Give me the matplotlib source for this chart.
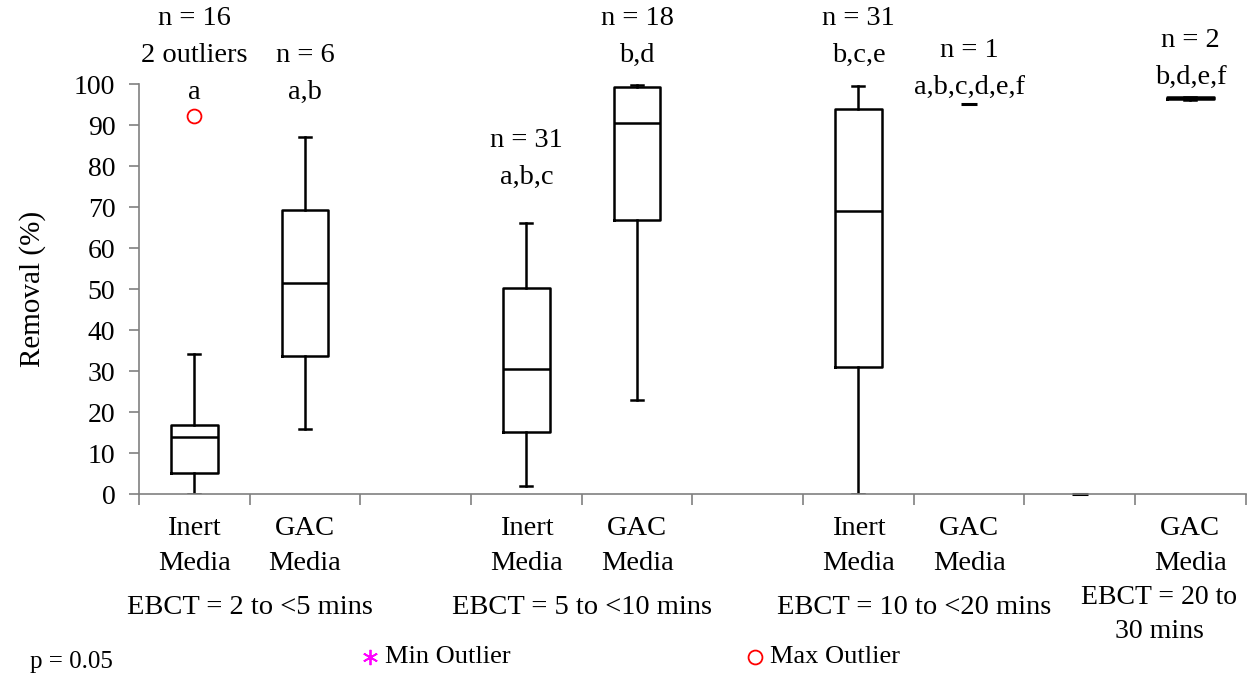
import matplotlib
matplotlib.use("Agg")
import matplotlib.pyplot as plt
from matplotlib.lines import Line2D
import matplotlib.transforms as mtransforms

plt.rcParams['font.family'] = ['Liberation Serif', 'DejaVu Serif']

# category slots along the x axis (blank slots separate the EBCT groups)
categories = ['Inert\nMedia', 'GAC\nMedia', '', 'Inert\nMedia', 'GAC\nMedia', '',
              'Inert\nMedia', 'GAC\nMedia', '', 'GAC\nMedia']

# box statistics (Removal %), one entry per drawn box
box_pos = [0, 1, 3, 4, 6, 9]
whislo = [0.0, 16.0, 2.0, 23.0, 0.0, 96.2]
q1 = [5.1, 33.7, 15.2, 66.8, 31.0, 96.4]
med = [13.9, 51.5, 30.5, 90.5, 69.0, 96.6]
q3 = [16.8, 69.3, 50.2, 99.3, 94.1, 96.8]
whishi = [34.1, 87.1, 66.1, 99.8, 99.6, 97.0]

# single-value categories
single_pos = [7, 8]
single_val = [95.3, 0.0]

# max outliers
outlier_pos = [0]
outlier_val = [92.2]

# annotation text above each box (top line first)
note_pos = [0, 1, 3, 4, 6, 7, 9]
note_lines = [['n = 16', '2 outliers', 'a'],
              ['n = 6', 'a,b'],
              ['n = 31', 'a,b,c'],
              ['n = 18', 'b,d'],
              ['n = 31', 'b,c,e'],
              ['n = 1', 'a,b,c,d,e,f'],
              ['n = 2', 'b,d,e,f']]
note_bottom = [98.0, 98.0, 77.3, 107.1, 107.1, 99.3, 101.7]

groups = ['EBCT = 2 to <5 mins', 'EBCT = 5 to <10 mins',
          'EBCT = 10 to <20 mins', 'EBCT = 20 to\n30 mins']
group_x = [0.5, 3.5, 6.5, 8.72]

fig = plt.figure(figsize=(12.52, 6.75), dpi=100)
ax = fig.add_axes([0.111, 0.268, 0.884, 0.607])

stats = []
for i in range(len(box_pos)):
    stats.append({'whislo': whislo[i], 'q1': q1[i], 'med': med[i],
                  'q3': q3[i], 'whishi': whishi[i], 'fliers': []})

lw = 1.8
ax.bxp(stats, positions=box_pos, widths=0.42, capwidths=0.11,
       showfliers=False, patch_artist=False,
       boxprops=dict(color='black', linewidth=lw),
       medianprops=dict(color='black', linewidth=lw),
       whiskerprops=dict(color='black', linewidth=lw),
       capprops=dict(color='black', linewidth=lw))

ax.plot(single_pos, single_val, linestyle='none', marker='_',
        markersize=12, markeredgewidth=2.2, color='black', clip_on=False)
ax.plot(outlier_pos, outlier_val, linestyle='none', marker='o',
        markersize=10, markerfacecolor='none', markeredgecolor='red',
        markeredgewidth=1.3, clip_on=False)

step = 9.0
for p, lines, yb in zip(note_pos, note_lines, note_bottom):
    n = len(lines)
    for k, s in enumerate(lines):
        ax.text(p, yb + (n - 1 - k) * step, s, ha='center', va='center',
                fontsize=20.5, clip_on=False)

ax.set_xlim(-0.5, 9.5)
ax.set_ylim(0, 100)
ax.set_yticks(range(0, 101, 10))
ax.set_xticks(range(len(categories)))
ax.set_xticklabels(categories, fontsize=20.5, linespacing=1.5)
ax.set_xticks([i - 0.5 for i in range(len(categories) + 1)], minor=True)
ax.tick_params(axis='x', which='major', length=0, pad=16)
ax.tick_params(axis='x', which='minor', length=8, width=1.2, color='#808080')
ax.tick_params(axis='y', length=7, width=1.2, color='#808080', labelsize=20, pad=10)
ax.set_ylabel('Removal (%)', fontsize=21, labelpad=20)

for s in ['top', 'right']:
    ax.spines[s].set_visible(False)
for s in ['left', 'bottom']:
    ax.spines[s].set_color('#808080')
    ax.spines[s].set_linewidth(1.2)

trans = mtransforms.blended_transform_factory(ax.transData, ax.transAxes)
for gx, g in zip(group_x, groups):
    multi = '\n' in g
    ax.text(gx, -0.294 if multi else -0.276, g, transform=trans,
            ha='center', va='center', fontsize=20 if multi else 20.5,
            linespacing=1.45)

# legend / footnote
fig.text(0.024, 0.019, 'p = 0.05', fontsize=18, va='center')
fig.lines.append(Line2D([370 / 1252], [1 - 657 / 675], marker=(6, 2, 0),
                        markersize=11, color='magenta', markeredgewidth=1.3,
                        transform=fig.transFigure))
fig.text(385 / 1252, 1 - 657 / 675, 'Min Outlier', fontsize=19, va='center')
fig.lines.append(Line2D([755 / 1252], [1 - 657 / 675], marker='o',
                        markersize=10, markerfacecolor='none',
                        markeredgecolor='red', markeredgewidth=1.3,
                        transform=fig.transFigure))
fig.text(770 / 1252, 1 - 657 / 675, 'Max Outlier', fontsize=19, va='center')

fig.savefig('out.png', dpi=100)
